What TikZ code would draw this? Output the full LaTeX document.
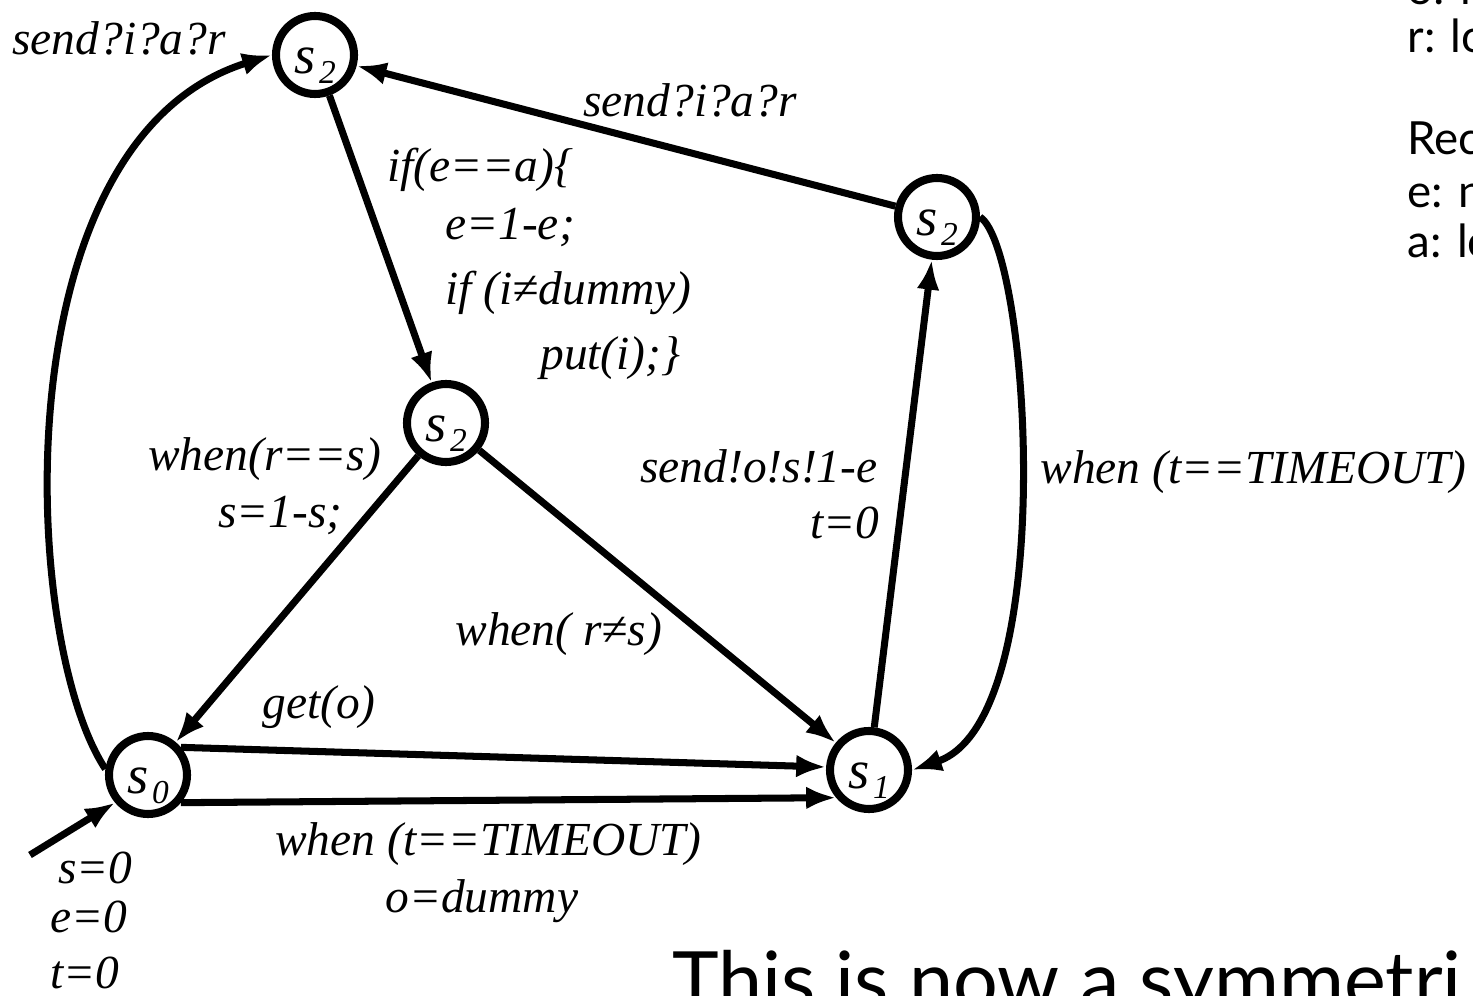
\documentclass[tikz,border=0pt]{standalone}
\usepackage{fontspec}
\setmainfont{Liberation Serif}
\newfontfamily\notefont{Lato}
\usetikzlibrary{arrows.meta}

\newcommand{\stname}[1]{{\fontsize{31}{31}\selectfont\itshape s}\kern2pt\raisebox{-6pt}{\fontsize{19}{19}\selectfont\itshape #1}}

\begin{document}
\begin{tikzpicture}[
  x=0.02cm, y=-0.02cm,
  >={Latex[length=17pt,width=13pt]},
  state/.style={circle, draw, line width=4.6pt, minimum size=1.56cm, inner sep=0pt, text height=20.5pt, text depth=0pt},
  trans/.style={->, line width=4pt},
  lab/.style={anchor=base west, inner sep=0pt, font=\fontsize{27}{32}\selectfont\itshape},
  note/.style={anchor=base west, inner sep=0pt, font=\fontsize{26}{30}\selectfont\notefont}
]
\useasboundingbox (0,0) rectangle (1473,996);

% states
\node[state] (A)  at (315,55)  {\stname{2}};
\node[state] (B)  at (937,217) {\stname{2}};
\node[state] (C)  at (446,423) {\stname{2}};
\node[state] (s0) at (148,775) {\stname{0}};
\node[state] (s1) at (869,770) {\stname{1}};
\coordinate (init) at (30,855);

% transitions
\draw[trans] (init) -- (s0.220);
\draw[trans] (s0.172) .. controls (20,640) and (0,140) .. (A.west);
\draw[trans] (B) -- (A);
\draw[trans] (A) -- (C);
\draw[trans] (C) -- (s0);
\draw[trans] (C) -- (s1);
\draw[trans] (s0.40) -- (s1.176);
\draw[trans] (s0.-40) -- (s1.-140);
\draw[trans] (s1) -- (B);
\draw[trans] (B.east) .. controls (1030,250) and (1060,720) .. (s1.east);

% labels
\node[lab] (lsendl) at (12,55)   {send?i?a?r};
\node[lab] (lsendt) at (583,117) {send?i?a?r};
\node[lab] (lif)    at (387,182) {if(e==a)\{};
\node[lab] (lflip)  at (445,240) {e=1-e;};
\node[lab] (lifd)   at (445,305) {if (i≠dummy)};
\node[lab] (lput)   at (540,370) {put(i);\}};
\node[lab] (lwheq)  at (148,470) {when(r==s)};
\node[lab] (lsflip) at (218,527) {s=1-s;};
\node[lab] (lwhne)  at (455,645) {when( r≠s)};
\node[lab] (lget)   at (262,718) {get(o)};
\node[lab] (ltob)   at (275,855) {when (t==TIMEOUT)};
\node[lab] (ldummy) at (385,912) {o=dummy};
\node[lab] (lsend)  at (640,482) {send!o!s!1-e};
\node[lab] (lt)     at (810,538) {t=0};
\node[lab] (ltor)   at (1040,483) {when (t==TIMEOUT)};
\node[lab] (lis)    at (58,883)  {s=0};
\node[lab] (lie)    at (50,932)  {e=0};
\node[lab] (lit)    at (50,988)  {t=0};

% notes at the side
\node[note] (no) at (1407,5)   {o: lo};
\node[note] (nr) at (1407,53)  {r: lo};
\node[note] (nR) at (1407,155) {Rec};
\node[note] (ne) at (1407,208) {e: n};
\node[note] (na) at (1407,258) {a: lo};
\node[anchor=base west, inner sep=0pt, font=\fontsize{45}{50}\selectfont\notefont] (sym) at (672,1008) {This is now a symmetri};
\end{tikzpicture}
\end{document}
